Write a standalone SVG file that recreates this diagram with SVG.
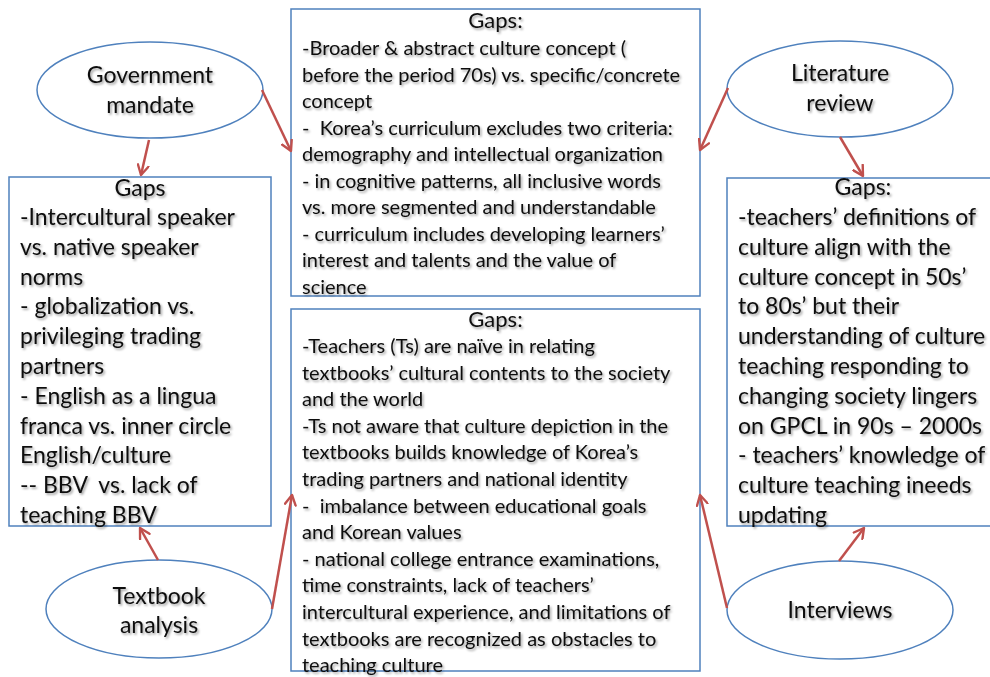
<svg xmlns="http://www.w3.org/2000/svg" width="990" height="677" viewBox="0 0 990 677">
  <defs>
    <filter id="txtShadow" x="-5%" y="-5%" width="110%" height="115%">
      <feDropShadow dx="1.5" dy="1.8" stdDeviation="1.1" flood-color="#000" flood-opacity="0.38"/>
    </filter>
    <marker id="head" viewBox="0 0 12 12" refX="10" refY="6" markerWidth="13" markerHeight="13" markerUnits="userSpaceOnUse" orient="auto">
      <path d="M1,1 L10,6 L1,11" fill="none" stroke="#C0504D" stroke-width="2.2" stroke-linecap="round" stroke-linejoin="round"/>
    </marker>
    <style>
      .box { fill: #fff; stroke: #4F81BD; stroke-width: 1.5; }
      .oval { fill: #fff; stroke: #4F81BD; stroke-width: 1.5; }
      .link { fill: none; stroke: #C0504D; stroke-width: 2.5; marker-end: url(#head); }
      text { font-family: Lato, "Open Sans", "Liberation Sans", sans-serif; fill: #0d0d0d; filter: url(#txtShadow); }
      .t20 { font-size: 20px; }
      .t22 { font-size: 22px; }
      .t23 { font-size: 23px; }
      .mid { text-anchor: middle; }
    </style>
  </defs>

  <rect width="990" height="677" fill="#fff"/>

  <!-- top centre: curriculum gaps -->
  <g id="box-curriculum">
    <rect class="box" x="291" y="9" width="409" height="287"/>
    <text class="t22 mid" x="495.5" y="28">Gaps:</text>
    <text class="t20" x="302" y="55">
      <tspan x="302">-Broader &amp; abstract culture concept (</tspan>
      <tspan x="302" dy="26.5">before the period 70s) vs. specific/concrete</tspan>
      <tspan x="302" dy="26.5">concept</tspan>
      <tspan x="302" dy="26.5">-&#160; Korea’s curriculum excludes two criteria:</tspan>
      <tspan x="302" dy="26.5">demography and intellectual organization</tspan>
      <tspan x="302" dy="26.5">- in cognitive patterns, all inclusive words</tspan>
      <tspan x="302" dy="26.5">vs. more segmented and understandable</tspan>
      <tspan x="302" dy="26.5">- curriculum includes developing learners’</tspan>
      <tspan x="302" dy="26.5">interest and talents and the value of</tspan>
      <tspan x="302" dy="26.5">science</tspan>
    </text>
  </g>

  <!-- bottom centre: teacher gaps -->
  <g id="box-teachers">
    <rect class="box" x="291" y="309" width="409" height="362"/>
    <text class="t22 mid" x="495.5" y="327">Gaps:</text>
    <text class="t20" x="302" y="353">
      <tspan x="302">-Teachers (Ts) are naïve in relating</tspan>
      <tspan x="302" dy="26.6">textbooks’ cultural contents to the society</tspan>
      <tspan x="302" dy="26.6">and the world</tspan>
      <tspan x="302" dy="26.6">-Ts not aware that culture depiction in the</tspan>
      <tspan x="302" dy="26.6">textbooks builds knowledge of Korea’s</tspan>
      <tspan x="302" dy="26.6">trading partners and national identity</tspan>
      <tspan x="302" dy="26.6">-&#160; imbalance between educational goals</tspan>
      <tspan x="302" dy="26.6">and Korean values</tspan>
      <tspan x="302" dy="26.6">- national college entrance examinations,</tspan>
      <tspan x="302" dy="26.6">time constraints, lack of teachers’</tspan>
      <tspan x="302" dy="26.6">intercultural experience, and limitations of</tspan>
      <tspan x="302" dy="26.6">textbooks are recognized as obstacles to</tspan>
      <tspan x="302" dy="26.6">teaching culture</tspan>
    </text>
  </g>

  <!-- left: policy gaps -->
  <g id="box-policy">
    <rect class="box" x="9" y="177" width="262" height="349"/>
    <text class="t23 mid" x="140" y="196">Gaps</text>
    <text class="t23" x="20" y="225">
      <tspan x="20">-Intercultural speaker</tspan>
      <tspan x="20" dy="29.8">vs. native speaker</tspan>
      <tspan x="20" dy="29.8">norms</tspan>
      <tspan x="20" dy="29.8">- globalization vs.</tspan>
      <tspan x="20" dy="29.8">privileging trading</tspan>
      <tspan x="20" dy="29.8">partners</tspan>
      <tspan x="20" dy="29.8">- English as a lingua</tspan>
      <tspan x="20" dy="29.8">franca vs. inner circle</tspan>
      <tspan x="20" dy="29.8">English/culture</tspan>
      <tspan x="20" dy="29.8">-- BBV&#160; vs. lack of</tspan>
      <tspan x="20" dy="29.8">teaching BBV</tspan>
    </text>
  </g>

  <!-- right: literature gaps -->
  <g id="box-literature">
    <rect class="box" x="727" y="178" width="272" height="348"/>
    <text class="t23 mid" x="863" y="195">Gaps:</text>
    <text class="t23" x="738" y="225">
      <tspan x="738">-teachers’ definitions of</tspan>
      <tspan x="738" dy="29.8">culture align with the</tspan>
      <tspan x="738" dy="29.8">culture concept in 50s’</tspan>
      <tspan x="738" dy="29.8">to 80s’ but their</tspan>
      <tspan x="738" dy="29.8">understanding of culture</tspan>
      <tspan x="738" dy="29.8">teaching responding to</tspan>
      <tspan x="738" dy="29.8">changing society lingers</tspan>
      <tspan x="738" dy="29.8">on GPCL in 90s – 2000s</tspan>
      <tspan x="738" dy="29.8">- teachers’ knowledge of</tspan>
      <tspan x="738" dy="29.8">culture teaching ineeds</tspan>
      <tspan x="738" dy="29.8">updating</tspan>
    </text>
  </g>

  <!-- source ovals -->
  <g id="src-government">
    <ellipse class="oval" cx="150" cy="90" rx="113" ry="48"/>
    <text class="t23 mid" x="150" y="83">Government</text>
    <text class="t23 mid" x="150" y="113">mandate</text>
  </g>
  <g id="src-literature">
    <ellipse class="oval" cx="840" cy="89" rx="113" ry="48"/>
    <text class="t23 mid" x="840" y="81">Literature</text>
    <text class="t23 mid" x="840" y="111">review</text>
  </g>
  <g id="src-textbook">
    <ellipse class="oval" cx="159" cy="609" rx="113" ry="49"/>
    <text class="t23 mid" x="159" y="604">Textbook</text>
    <text class="t23 mid" x="159" y="633">analysis</text>
  </g>
  <g id="src-interviews">
    <ellipse class="oval" cx="840" cy="610" rx="113" ry="49"/>
    <text class="t23 mid" x="840" y="618">Interviews</text>
  </g>

  <!-- connectors -->
  <g id="connectors">
    <line class="link" x1="149" y1="140" x2="141" y2="175"/>
    <line class="link" x1="262" y1="90" x2="291" y2="151"/>
    <line class="link" x1="728" y1="88" x2="700" y2="150"/>
    <line class="link" x1="840" y1="137" x2="863" y2="176"/>
    <line class="link" x1="158" y1="560" x2="140" y2="528"/>
    <line class="link" x1="272" y1="609" x2="292" y2="495"/>
    <line class="link" x1="727" y1="608" x2="700" y2="495"/>
    <line class="link" x1="839" y1="561" x2="864" y2="528"/>
  </g>
</svg>
